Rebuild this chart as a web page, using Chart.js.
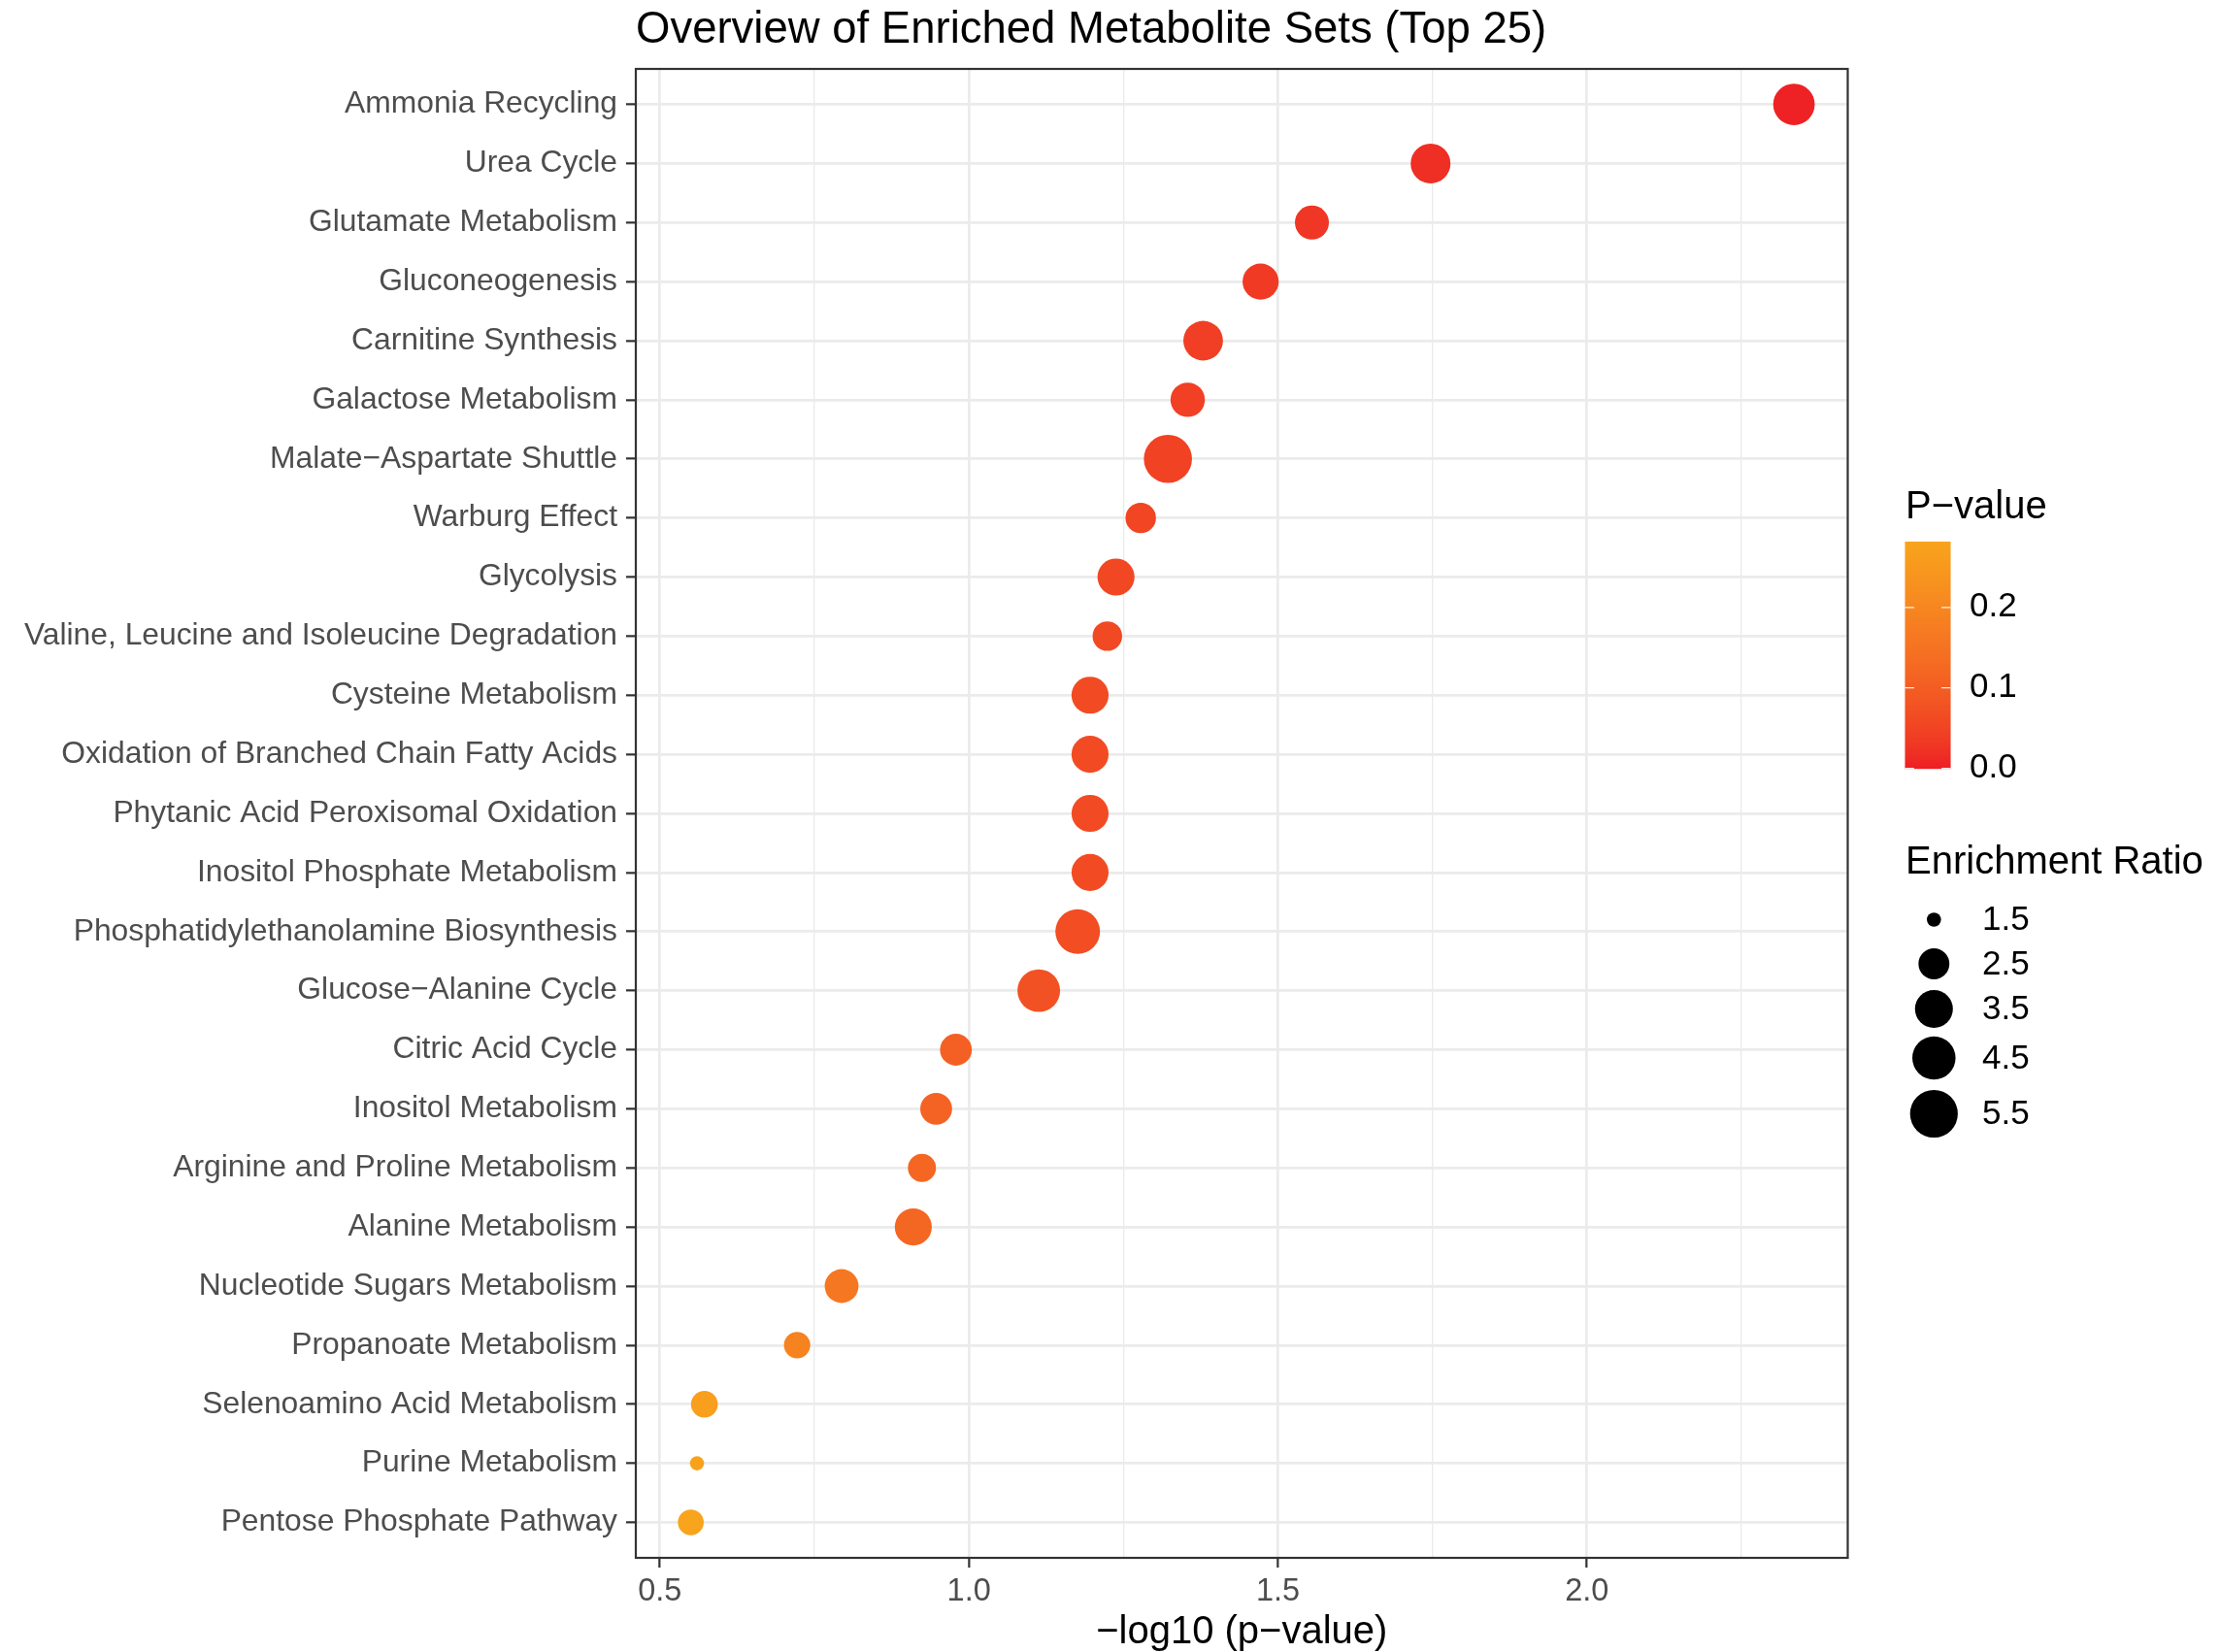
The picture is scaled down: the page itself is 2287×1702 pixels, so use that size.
<!DOCTYPE html>
<html>
<head>
<meta charset="utf-8">
<title>Overview of Enriched Metabolite Sets (Top 25)</title>
<script src="https://cdn.jsdelivr.net/npm/chart.js@4.4.1/dist/chart.umd.min.js"></script>
<style>
  html, body { margin: 0; padding: 0; background: #ffffff; }
  #wrap { width: 2287px; height: 1702px; position: relative; }
</style>
</head>
<body>
<div id="wrap"><canvas id="chart"></canvas></div>
<script>
// metabolite sets, top to bottom
const setNames = [
  'Ammonia Recycling',
  'Urea Cycle',
  'Glutamate Metabolism',
  'Gluconeogenesis',
  'Carnitine Synthesis',
  'Galactose Metabolism',
  'Malate\u2212Aspartate Shuttle',
  'Warburg Effect',
  'Glycolysis',
  'Valine, Leucine and Isoleucine Degradation',
  'Cysteine Metabolism',
  'Oxidation of Branched Chain Fatty Acids',
  'Phytanic Acid Peroxisomal Oxidation',
  'Inositol Phosphate Metabolism',
  'Phosphatidylethanolamine Biosynthesis',
  'Glucose\u2212Alanine Cycle',
  'Citric Acid Cycle',
  'Inositol Metabolism',
  'Arginine and Proline Metabolism',
  'Alanine Metabolism',
  'Nucleotide Sugars Metabolism',
  'Propanoate Metabolism',
  'Selenoamino Acid Metabolism',
  'Purine Metabolism',
  'Pentose Phosphate Pathway'
];

// -log10(p)
const negLog10P = [
  2.335, 1.747, 1.555, 1.472, 1.379, 1.354, 1.322, 1.278, 1.238, 1.224,
  1.196, 1.196, 1.196, 1.196, 1.176, 1.113, 0.979, 0.947, 0.924, 0.910,
  0.794, 0.722, 0.572, 0.560, 0.550
];

// enrichment ratio
const enrichmentRatio = [
  4.16, 3.83, 2.89, 3.21, 3.80, 2.95, 5.60, 2.44, 3.36, 2.34,
  3.36, 3.36, 3.36, 3.36, 4.80, 4.39, 2.61, 2.61, 2.19, 3.36,
  2.87, 2.03, 2.07, 1.50, 1.98
];

const xTickValues = [0.5, 0.75, 1.0, 1.25, 1.5, 1.75, 2.0, 2.25];
const pValueBreaks = [0.0, 0.1, 0.2];
const ratioBreaks = [1.5, 2.5, 3.5, 4.5, 5.5];

const chartTitle = 'Overview of Enriched Metabolite Sets (Top 25)';
const xTitle = '\u2212log10 (p\u2212value)';

const FONT = '"Liberation Sans", Arial, Helvetica, sans-serif';
const LOW_COLOR = '#EE1D24';
const HIGH_COLOR = '#F8A41C';

const pValues = negLog10P.map(v => Math.pow(10, -v));
const pMax = Math.max(...pValues);
const ratioMin = Math.min(...enrichmentRatio);
const ratioMax = Math.max(...enrichmentRatio);

// colour gradient interpolated in Lab, like ggplot
function toLinear(c) {
  c /= 255;
  return c <= 0.04045 ? c / 12.92 : Math.pow((c + 0.055) / 1.055, 2.4);
}
function fromLinear(c) {
  const v = c <= 0.0031308 ? 12.92 * c : 1.055 * Math.pow(c, 1 / 2.4) - 0.055;
  return Math.round(Math.max(0, Math.min(1, v)) * 255);
}
function hexToLab(hex) {
  const r = toLinear(parseInt(hex.slice(1, 3), 16));
  const g = toLinear(parseInt(hex.slice(3, 5), 16));
  const b = toLinear(parseInt(hex.slice(5, 7), 16));
  const X = (0.4124 * r + 0.3576 * g + 0.1805 * b) / 0.95047;
  const Y = 0.2126 * r + 0.7152 * g + 0.0722 * b;
  const Z = (0.0193 * r + 0.1192 * g + 0.9505 * b) / 1.08883;
  const f = t => (t > 0.008856 ? Math.cbrt(t) : 7.787 * t + 16 / 116);
  const fx = f(X), fy = f(Y), fz = f(Z);
  return [116 * fy - 16, 500 * (fx - fy), 200 * (fy - fz)];
}
function labToRgb(L, a, b) {
  const fy = (L + 16) / 116, fx = fy + a / 500, fz = fy - b / 200;
  const inv = t => (t * t * t > 0.008856 ? t * t * t : (t - 16 / 116) / 7.787);
  const X = inv(fx) * 0.95047, Y = inv(fy), Z = inv(fz) * 1.08883;
  const r = 3.2406 * X - 1.5372 * Y - 0.4986 * Z;
  const g = -0.9689 * X + 1.8758 * Y + 0.0415 * Z;
  const bl = 0.0557 * X - 0.2040 * Y + 1.0570 * Z;
  return `rgb(${fromLinear(r)}, ${fromLinear(g)}, ${fromLinear(bl)})`;
}
const lowLab = hexToLab(LOW_COLOR);
const highLab = hexToLab(HIGH_COLOR);
function colorFor(p) {
  const t = Math.max(0, Math.min(1, p / pMax));
  return labToRgb(
    lowLab[0] + (highLab[0] - lowLab[0]) * t,
    lowLab[1] + (highLab[1] - lowLab[1]) * t,
    lowLab[2] + (highLab[2] - lowLab[2]) * t
  );
}

// point radius, area scale between the smallest and largest ratio
function radiusFor(v) {
  const t = Math.max(0, (v - ratioMin) / (ratioMax - ratioMin));
  return 7.3 + 17.5 * Math.sqrt(t);
}

const isMajor = v => Math.abs(v * 2 - Math.round(v * 2)) < 1e-6;

const legendPlugin = {
  id: 'decor',
  afterDraw(chart) {
    const ctx = chart.ctx;
    const a = chart.chartArea;
    ctx.save();

    // panel border
    ctx.strokeStyle = '#333333';
    ctx.lineWidth = 2.2;
    ctx.strokeRect(a.left, a.top, a.right - a.left, a.bottom - a.top);

    // title
    ctx.fillStyle = '#000000';
    ctx.font = `45.5px ${FONT}`;
    ctx.textAlign = 'left';
    ctx.textBaseline = 'alphabetic';
    ctx.fillText(chartTitle, a.left, 44);

    // p-value colour bar
    const legX = 1963;
    ctx.font = `40px ${FONT}`;
    ctx.fillText('P\u2212value', legX, 534);

    const barX = 1962.5, barW = 47, barTop = 558, barBottom = 791.6;
    const barH = barBottom - barTop;
    for (let y = barTop; y < barBottom; y += 1) {
      const p = pMax * (barBottom - y - 0.5) / barH;
      ctx.fillStyle = colorFor(p);
      ctx.fillRect(barX, y, barW, 1.2);
    }
    ctx.strokeStyle = 'rgba(255,255,255,0.9)';
    ctx.lineWidth = 1.3;
    ctx.font = `35px ${FONT}`;
    ctx.textBaseline = 'middle';
    pValueBreaks.forEach(p => {
      const y = barBottom - (p / pMax) * barH;
      ctx.beginPath();
      ctx.moveTo(barX, y); ctx.lineTo(barX + barW / 5, y);
      ctx.moveTo(barX + barW - barW / 5, y); ctx.lineTo(barX + barW, y);
      ctx.stroke();
      ctx.fillStyle = '#000000';
      ctx.fillText(p.toFixed(1), 2029, y);
    });

    // enrichment ratio size keys
    ctx.textBaseline = 'alphabetic';
    ctx.font = `40px ${FONT}`;
    ctx.fillText('Enrichment Ratio', legX, 900);
    const keyY = [947.5, 993, 1039.5, 1090, 1147.5];
    ctx.font = `35px ${FONT}`;
    ctx.textBaseline = 'middle';
    ratioBreaks.forEach((v, i) => {
      ctx.fillStyle = '#000000';
      ctx.beginPath();
      ctx.arc(1992.3, keyY[i], radiusFor(v), 0, Math.PI * 2);
      ctx.fill();
      ctx.fillText(v.toFixed(1), 2042, keyY[i] + 1);
    });

    ctx.restore();
  }
};

new Chart(document.getElementById('chart'), {
  type: 'scatter',
  data: {
    datasets: [{
      data: negLog10P.map((x, i) => ({ x: x, y: i })),
      pointRadius: ctx => radiusFor(enrichmentRatio[ctx.dataIndex]),
      pointHoverRadius: ctx => radiusFor(enrichmentRatio[ctx.dataIndex]),
      backgroundColor: ctx => colorFor(pValues[ctx.dataIndex]),
      borderWidth: 0,
      hoverBorderWidth: 0
    }]
  },
  options: {
    responsive: true,
    maintainAspectRatio: false,
    animation: false,
    events: [],
    layout: { padding: { top: 71, right: 383.5, bottom: 0, left: 0 } },
    plugins: {
      legend: { display: false },
      title: { display: false },
      tooltip: { enabled: false }
    },
    scales: {
      x: {
        type: 'linear',
        position: 'bottom',
        min: 0.461,
        max: 2.422,
        afterBuildTicks: scale => {
          scale.ticks = xTickValues.map(v => ({ value: v }));
        },
        afterFit: scale => { scale.height = 97; },
        ticks: {
          autoSkip: false,
          maxRotation: 0,
          padding: 5.5,
          color: '#4D4D4D',
          font: { size: 32.5, family: FONT },
          callback: v => (isMajor(v) ? v.toFixed(1) : '')
        },
        grid: {
          color: '#EBEBEB',
          lineWidth: ctx => (ctx.tick && isMajor(ctx.tick.value) ? 2.7 : 1.35),
          tickColor: ctx => (ctx.tick && isMajor(ctx.tick.value) ? '#333333' : 'rgba(0,0,0,0)'),
          tickLength: 10,
          tickWidth: 2.2
        },
        border: { display: false },
        title: {
          display: true,
          text: xTitle,
          color: '#000000',
          font: { size: 40, family: FONT, lineHeight: 1.0 },
          padding: { top: 0, bottom: 0.5 }
        }
      },
      y: {
        type: 'linear',
        reverse: true,
        min: -0.6,
        max: setNames.length - 0.4,
        afterBuildTicks: scale => {
          scale.ticks = setNames.map((_, i) => ({ value: i }));
        },
        afterFit: scale => { scale.width = 655; },
        ticks: {
          autoSkip: false,
          padding: 9,
          color: '#4D4D4D',
          font: { size: 31.8, family: FONT },
          callback: v => setNames[v]
        },
        grid: {
          color: '#EBEBEB',
          lineWidth: 2.7,
          tickColor: '#333333',
          tickLength: 10,
          tickWidth: 2.2
        },
        border: { display: false }
      }
    }
  },
  plugins: [legendPlugin]
});
</script>
</body>
</html>
